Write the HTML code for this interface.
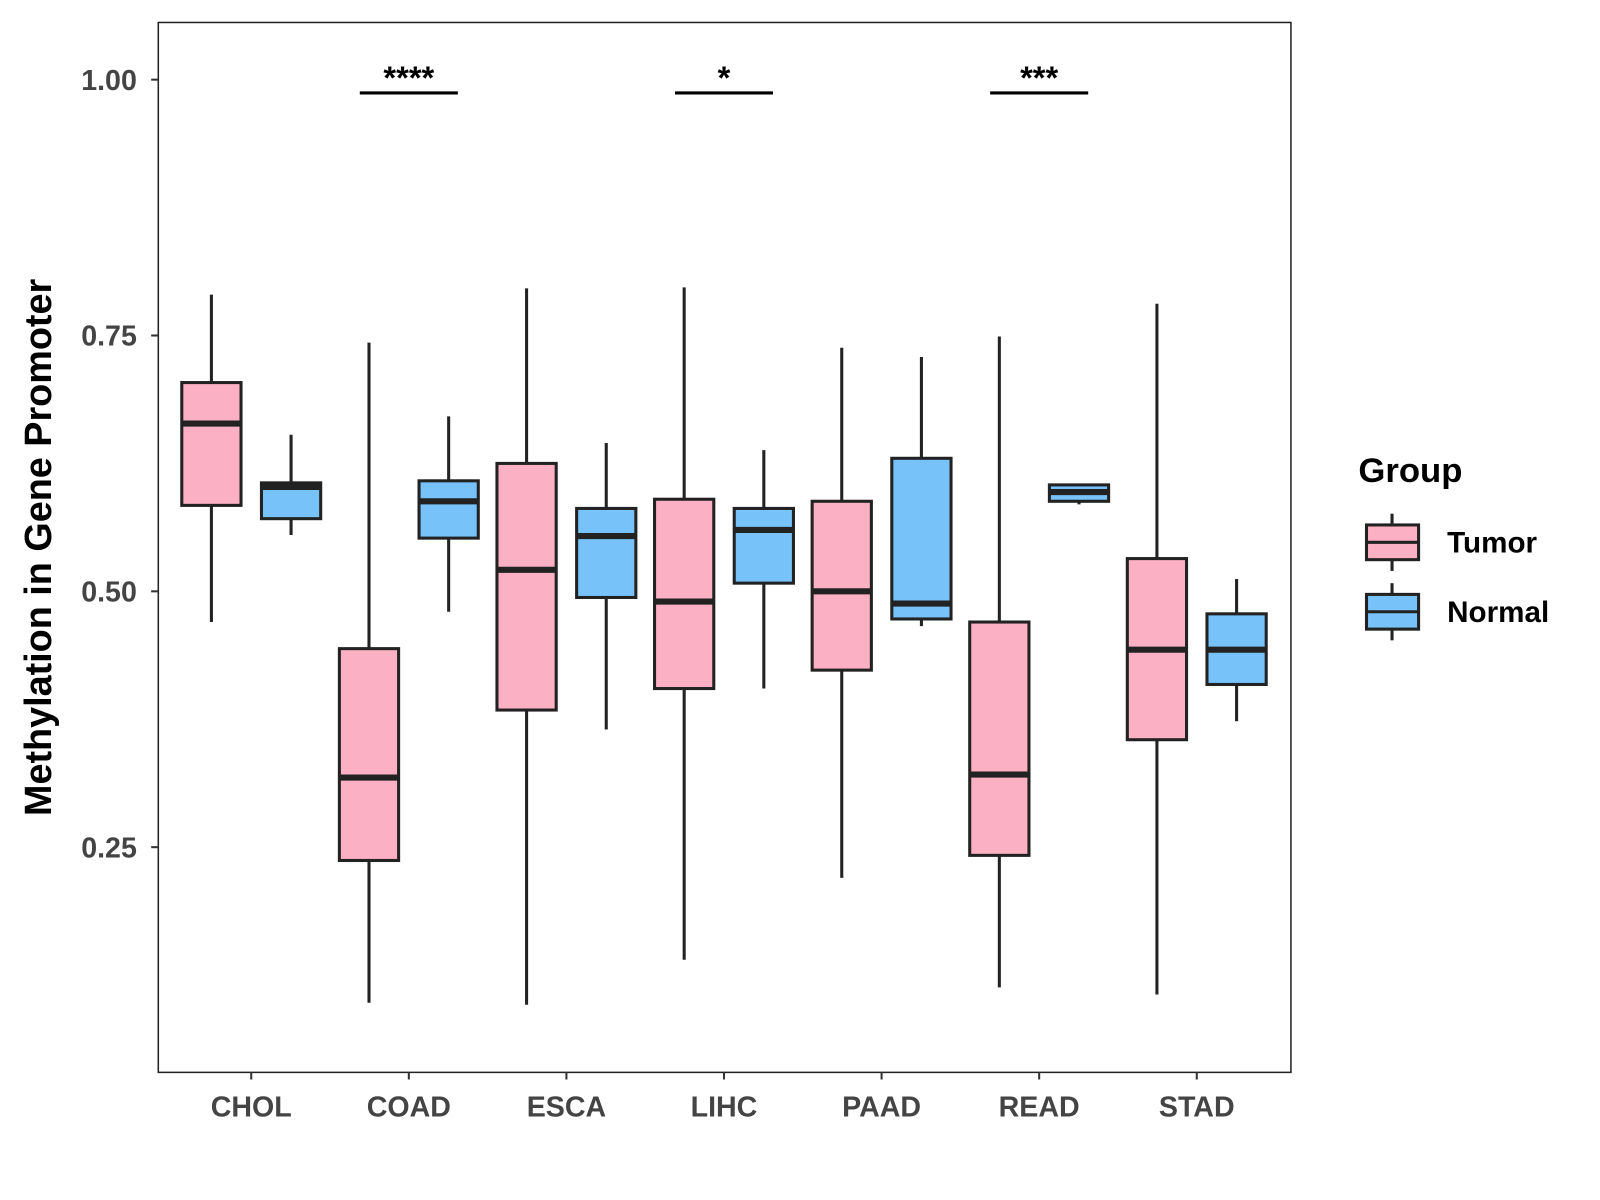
<!DOCTYPE html>
<html><head><meta charset="utf-8"><style>
body{margin:0;background:#fff}
svg{display:block;font-family:"Liberation Sans",Arial,sans-serif}
</style></head><body>
<svg width="1600" height="1200"><g id="c" transform="scale(1.0213)"></g></svg>
<script>
const categories=["CHOL","COAD","ESCA","LIHC","PAAD","READ","STAD"];
// [whiskerHigh, q3, median, q1, whiskerLow]
const tumorStats=[[0.79,0.704,0.664,0.584,0.47],[0.743,0.444,0.318,0.237,0.098],[0.796,0.625,0.521,0.384,0.096],[0.797,0.59,0.49,0.405,0.14],[0.738,0.588,0.5,0.423,0.22],[0.749,0.47,0.321,0.242,0.113],[0.781,0.532,0.443,0.355,0.106]];
const normalStats=[[0.653,0.606,0.602,0.571,0.555],[0.671,0.608,0.588,0.552,0.48],[0.645,0.581,0.554,0.494,0.365],[0.638,0.581,0.56,0.508,0.405],[0.729,0.63,0.488,0.473,0.466],[0.6035,0.604,0.597,0.588,0.585],[0.512,0.478,0.443,0.409,0.373]];
const sigLabels=["","****","","*","","***",""];
const yTicks=[0.25,0.5,0.75,1.0];
const yTickLabels=["0.25","0.50","0.75","1.00"];
const NS="http://www.w3.org/2000/svg";
const svg=document.getElementById('c');
const y=v=>78+(1-v)*1002;
const x=i=>246+i*154.3;
function el(t,a,p){const e=document.createElementNS(NS,t);for(const k in a)e.setAttribute(k,a[k]);(p||svg).appendChild(e);return e;}
const panel=el('rect',{x:155,y:22,width:1109,height:1028,fill:'none',stroke:'#222','stroke-width':1.5});


yTicks.forEach((v,i)=>{
 const t=el('line',{x1:148,x2:155,y1:y(v),y2:y(v),stroke:'#333','stroke-width':2});
 
 
 const l=el('text',{x:134,y:y(v)+10,'text-anchor':'end','font-size':28,'font-weight':'bold',fill:'#444'});
 l.textContent=yTickLabels[i];
 
 
});
categories.forEach((c,i)=>{
 const t=el('line',{x1:x(i),x2:x(i),y1:1050,y2:1057,stroke:'#333','stroke-width':2});
 
 
 const l=el('text',{x:x(i),y:1093,'text-anchor':'middle','font-size':28,'font-weight':'bold',fill:'#444'});
 l.textContent=c;
 
 
});
function box(s,cx,fill,name){
 const g=el('g',{});
 
 
 el('line',{x1:cx,x2:cx,y1:y(s[0]),y2:y(s[4]),stroke:'#222','stroke-width':3},g);
 el('rect',{x:cx-29,y:y(s[1]),width:58,height:y(s[3])-y(s[1]),fill:fill,stroke:'#222','stroke-width':3},g);
 el('line',{x1:cx-29,x2:cx+29,y1:y(s[2]),y2:y(s[2]),stroke:'#222','stroke-width':6},g);
}
categories.forEach((c,i)=>{
 box(tumorStats[i],x(i)-39,'#FCB0C3','box-tumor-'+c.toLowerCase());
 box(normalStats[i],x(i)+39,'#76C2F9','box-normal-'+c.toLowerCase());
 if(sigLabels[i]){
  const b=el('line',{x1:x(i)-48,x2:x(i)+48,y1:91,y2:91,stroke:'#000','stroke-width':3});
  
  
  const s=el('text',{x:x(i),y:87,'text-anchor':'middle','font-size':32,'font-weight':'bold'});
  s.textContent=sigLabels[i];
  
  
 }
});
const yt=el('text',{transform:'translate(50,536) rotate(-90)','text-anchor':'middle','font-size':37,'font-weight':'bold'});
yt.textContent='Methylation in Gene Promoter';


const lg=el('text',{x:1330,y:472,'font-size':34,'font-weight':'bold'});
lg.textContent='Group';


[['Tumor','#FCB0C3',531],['Normal','#76C2F9',599]].forEach(([n,f,cy])=>{
 const g=el('g',{});
 
 
 el('line',{x1:1363,x2:1363,y1:cy-28,y2:cy+28,stroke:'#222','stroke-width':3},g);
 el('rect',{x:1338,y:cy-17,width:51,height:34,fill:f,stroke:'#222','stroke-width':3},g);
 el('line',{x1:1338,x2:1389,y1:cy,y2:cy,stroke:'#222','stroke-width':3},g);
 const t=el('text',{x:1417,y:cy+10,'font-size':29,'font-weight':'bold'},g);
 t.textContent=n;
});
</script>
</body></html>
